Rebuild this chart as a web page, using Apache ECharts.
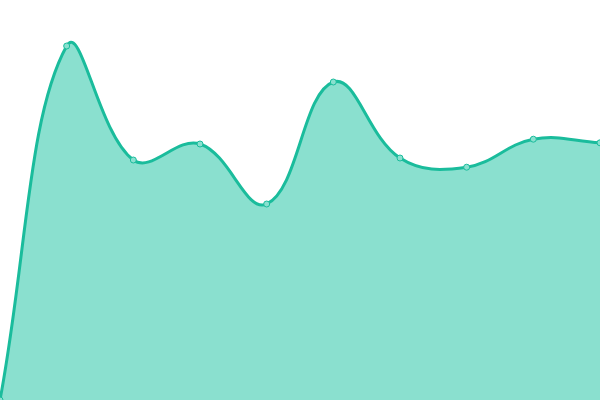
<!DOCTYPE html>
<html>
<head>
<meta charset="utf-8">
<script src="https://cdn.jsdelivr.net/npm/echarts@6/dist/echarts.min.js"></script>
<style>html,body{margin:0;padding:0;background:#fff}#c{width:600px;height:400px}</style>
</head>
<body>
<div id="c"></div>
<script>
var categories = ['1','2','3','4','5','6','7','8','9','10'];
var values = [0, 88.5, 60, 64, 49, 79.5, 60.5, 58.2, 65.2, 64.3];
var yMin = 0, yMax = 100;
var tension = 0.4;

function renderCurve(params, api) {
  if (params.dataIndex !== 0) return null;
  var cs = params.coordSys;
  var pts = values.map(function (v, i) { return api.coord([i, v]); });
  var n = pts.length;
  function clampX(x) { return Math.max(cs.x, Math.min(cs.x + cs.width, x)); }
  function clampY(y) { return Math.max(cs.y, Math.min(cs.y + cs.height, y)); }
  var cps = [];
  for (var i = 0; i < n; i++) {
    var p0 = pts[Math.max(0, i - 1)], p1 = pts[i], p2 = pts[Math.min(n - 1, i + 1)];
    var d01 = Math.hypot(p1[0] - p0[0], p1[1] - p0[1]);
    var d12 = Math.hypot(p2[0] - p1[0], p2[1] - p1[1]);
    var s01 = d01 / (d01 + d12 || 1), s12 = d12 / (d01 + d12 || 1);
    var fa = tension * s01, fb = tension * s12;
    cps.push({
      prev: [clampX(p1[0] - fa * (p2[0] - p0[0])), clampY(p1[1] - fa * (p2[1] - p0[1]))],
      next: [clampX(p1[0] + fb * (p2[0] - p0[0])), clampY(p1[1] + fb * (p2[1] - p0[1]))]
    });
  }
  var d = 'M' + pts[0][0] + ' ' + pts[0][1];
  for (var j = 1; j < n; j++) {
    var a = cps[j - 1].next, b = cps[j].prev;
    d += ' C' + a[0] + ' ' + a[1] + ' ' + b[0] + ' ' + b[1] + ' ' + pts[j][0] + ' ' + pts[j][1];
  }
  var base = api.coord([0, yMin])[1];
  var area = d + ' L' + pts[n - 1][0] + ' ' + base + ' L' + pts[0][0] + ' ' + base + ' Z';
  return {
    type: 'group',
    children: [
      {type: 'path', shape: {pathData: area}, style: {fill: '#8ae0cf', stroke: null}},
      {type: 'path', shape: {pathData: d}, style: {fill: null, stroke: '#1abc9c', lineWidth: 3, lineJoin: 'round'}}
    ]
  };
}

var chart = echarts.init(document.getElementById('c'));
chart.setOption({
  animation: false,
  grid: {left: 0, right: 0, top: 0, bottom: 0},
  xAxis: {type: 'category', data: categories, boundaryGap: false, show: false},
  yAxis: {type: 'value', min: yMin, max: yMax, show: false},
  series: [{
    type: 'custom',
    data: values,
    renderItem: renderCurve,
    clip: false,
    z: 1
  }, {
    type: 'scatter',
    data: values,
    symbol: 'circle',
    symbolSize: 6,
    itemStyle: {color: '#8ae0cf', borderColor: '#1abc9c', borderWidth: 1, opacity: 1},
    z: 2
  }]
});
</script>
</body>
</html>
